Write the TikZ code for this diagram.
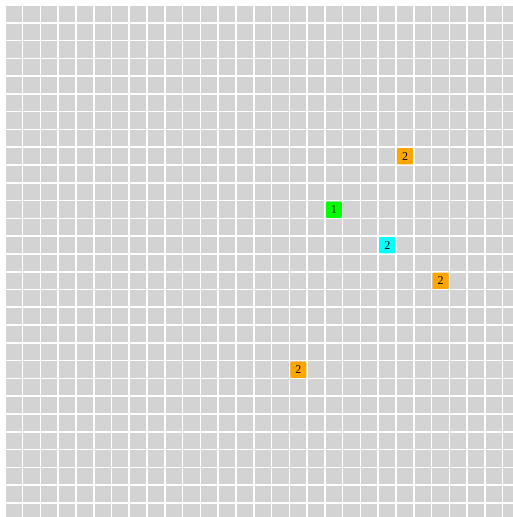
\documentclass[tikz,border=0pt]{standalone}
\usepackage{fontspec}
\setmainfont{Liberation Serif}
\definecolor{cellgray}{HTML}{D3D3D3}
\definecolor{cellorange}{HTML}{FFA500}
\definecolor{cellgreen}{HTML}{00FF00}
\definecolor{cellcyan}{HTML}{00FFFF}
\begin{document}
\begin{tikzpicture}[x=1pt,y=-1pt,
  cell/.style={fill=cellgray,draw=none},
  mark cell/.style={draw=none,rounded corners=1pt,minimum width=16.2pt,minimum height=16.2pt,inner sep=0pt,anchor=north west,font=\fontsize{12}{12}\selectfont,text=black}]
\useasboundingbox (0,0) rectangle (513,517);
\clip (0,0) rectangle (513,517);
\fill[white] (0,0) rectangle (513,517);
\def\xo{5.6}\def\yo{5.8}\def\pit{17.78}\def\cs{16.2}
\foreach \i in {0,...,28}{
  \foreach \j in {0,...,28}{
    \fill[cellgray] ({\xo+\i*\pit},{\yo+\j*\pit}) rectangle ++(\cs,\cs);
  }
}
\node[mark cell,fill=cellorange] (c1) at ({\xo+22*\pit},{\yo+8*\pit}) {2};
\node[mark cell,fill=cellgreen] (c2) at ({\xo+18*\pit},{\yo+11*\pit}) {1};
\node[mark cell,fill=cellcyan] (c3) at ({\xo+21*\pit},{\yo+13*\pit}) {2};
\node[mark cell,fill=cellorange] (c4) at ({\xo+24*\pit},{\yo+15*\pit}) {2};
\node[mark cell,fill=cellorange] (c5) at ({\xo+16*\pit},{\yo+20*\pit}) {2};
\end{tikzpicture}
\end{document}
